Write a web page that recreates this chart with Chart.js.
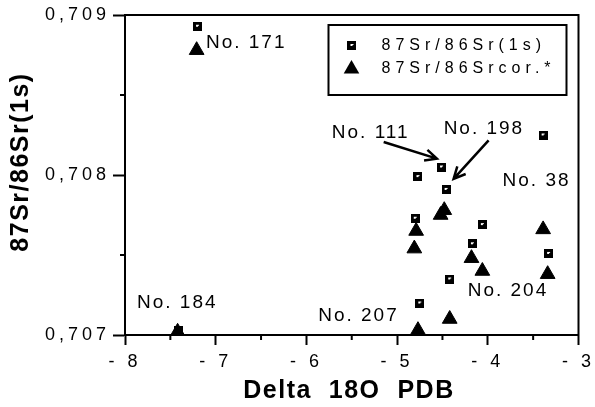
<!DOCTYPE html>
<html>
<head>
<meta charset="utf-8">
<script src="https://cdn.jsdelivr.net/npm/chart.js@4.4.0/dist/chart.umd.min.js"></script>
<style>
  html, body { margin: 0; padding: 0; background: #fff; }
</style>
</head>
<body>
<canvas id="chart" width="595" height="407"></canvas>
<script>
// measured values (delta 18O vs 87Sr/86Sr)
var rawX = [-7.20, -7.41, -4.51, -4.77, -4.46, -4.80, -4.06, -4.17, -3.33, -4.42, -4.75, -3.39];
var rawY = [0.70893, 0.70703, 0.70805, 0.70799, 0.70791, 0.70773, 0.70769, 0.70757, 0.70751, 0.70735, 0.70720, 0.70825];
var corX = [-7.21, -7.42, -4.52, -4.48, -4.79, -4.81, -3.39, -4.18, -4.06, -3.34, -4.42, -4.77];
var corY = [0.70878, 0.70702, 0.70775, 0.70778, 0.70765, 0.70754, 0.70766, 0.70748, 0.70740, 0.70738, 0.70710, 0.70703];

var seriesNames = ['87Sr/86Sr(1s)', '87Sr/86Srcor.*'];
var xTicks = [-8, -7, -6, -5, -4, -3];
var yTicks = [0.707, 0.708, 0.709];
var xMinorTicks = [-7.5, -6.5, -5.5, -4.5, -3.5];
var yMinorTicks = [0.7075, 0.7085];

// sample labels, anchored in data units
var noteText = ['No. 171', 'No. 184', 'No. 207', 'No. 111', 'No. 198', 'No. 38', 'No. 204'];
var noteX = [-7.108, -7.868, -4.982, -5.720, -4.487, -3.837, -4.222];
var noteY = [0.708824, 0.707201, 0.707119, 0.708266, 0.708292, 0.707966, 0.707276];
var noteAlign = ['left', 'left', 'right', 'left', 'left', 'left', 'left'];

// arrows: from -> to, data units
var arrowFrom = [[-5.148, 0.708206], [-3.991, 0.708216]];
var arrowTo = [[-4.561, 0.708102], [-4.377, 0.707976]];

var FONT = '"Liberation Sans", Arial, Helvetica, sans-serif';

function pairs(xs, ys) {
    var out = [];
    for (var i = 0; i < xs.length; i++) out.push({ x: xs[i], y: ys[i] });
    return out;
}

function makeSquare() {
    var c = document.createElement('canvas');
    c.width = 9; c.height = 9;
    var g = c.getContext('2d');
    g.fillStyle = '#000';
    g.fillRect(0, 0, 9, 9);
    g.fillStyle = '#fff';
    g.fillRect(3, 3, 3, 2);
    g.fillStyle = '#000';
    g.fillRect(5, 4, 1, 1);
    return c;
}
var squareImg = makeSquare();

function drawTriangle(ctx, x, y, r) {
    ctx.beginPath();
    ctx.moveTo(x, y - r);
    ctx.lineTo(x + r * 0.866, y + r * 0.5);
    ctx.lineTo(x - r * 0.866, y + r * 0.5);
    ctx.closePath();
    ctx.fill();
}

var decor = {
    id: 'decor',
    beforeDraw: function(chart) {
        chart.ctx.letterSpacing = '4px';
    },
    beforeDatasetsDraw: function(chart) {
        chart.ctx.letterSpacing = '0px';
    },
    afterDraw: function(chart) {
        var ctx = chart.ctx, a = chart.chartArea;
        var xs = chart.scales.x, ys = chart.scales.y;
        ctx.save();
        ctx.strokeStyle = '#000';
        ctx.fillStyle = '#000';
        ctx.lineWidth = 2;
        ctx.strokeRect(a.left, a.top, a.right - a.left, a.bottom - a.top);

        xMinorTicks.forEach(function(v) {
            var px = xs.getPixelForValue(v);
            ctx.beginPath(); ctx.moveTo(px, a.bottom); ctx.lineTo(px, a.bottom + 5); ctx.stroke();
        });
        yMinorTicks.forEach(function(v) {
            var py = ys.getPixelForValue(v);
            ctx.beginPath(); ctx.moveTo(a.left, py); ctx.lineTo(a.left - 5, py); ctx.stroke();
        });

        // arrows
        ctx.lineWidth = 2.5;
        for (var i = 0; i < arrowFrom.length; i++) {
            var x1 = xs.getPixelForValue(arrowFrom[i][0]), y1 = ys.getPixelForValue(arrowFrom[i][1]);
            var x2 = xs.getPixelForValue(arrowTo[i][0]), y2 = ys.getPixelForValue(arrowTo[i][1]);
            var ang = Math.atan2(y2 - y1, x2 - x1);
            ctx.beginPath();
            ctx.moveTo(x1, y1); ctx.lineTo(x2, y2);
            ctx.moveTo(x2 - 13 * Math.cos(ang - 0.45), y2 - 13 * Math.sin(ang - 0.45));
            ctx.lineTo(x2, y2);
            ctx.lineTo(x2 - 13 * Math.cos(ang + 0.45), y2 - 13 * Math.sin(ang + 0.45));
            ctx.stroke();
        }

        // sample labels
        ctx.font = '19px ' + FONT;
        ctx.letterSpacing = '2px';
        ctx.textBaseline = 'middle';
        for (var j = 0; j < noteText.length; j++) {
            ctx.textAlign = noteAlign[j];
            ctx.fillText(noteText[j], xs.getPixelForValue(noteX[j]), ys.getPixelForValue(noteY[j]));
        }

        // legend box
        var bw = 238, bh = 70;
        var bx = a.right - 12 - bw, by = a.top + 10;
        ctx.lineWidth = 2;
        ctx.strokeRect(bx, by, bw, bh);
        ctx.drawImage(squareImg, bx + 19, by + 16);
        drawTriangle(ctx, bx + 23, by + 44, 9);
        ctx.font = '16px ' + FONT;
        ctx.letterSpacing = '5px';
        ctx.textAlign = 'left';
        ctx.fillText(seriesNames[0], bx + 53, by + 21);
        ctx.fillText(seriesNames[1], bx + 53, by + 44);

        // axis titles
        ctx.font = 'bold 25px ' + FONT;
        ctx.letterSpacing = '1.5px';
        ctx.textAlign = 'center';
        ctx.fillText('Delta  18O  PDB', 349, 391);
        ctx.save();
        ctx.translate(21, 162);
        ctx.rotate(-Math.PI / 2);
        ctx.letterSpacing = '1.5px';
        ctx.fillText('87Sr/86Sr(1s)', 0, 0);
        ctx.restore();

        ctx.restore();
    }
};

var ctx = document.getElementById('chart').getContext('2d');
var chart = new Chart(ctx, {
    type: 'scatter',
    data: {
        datasets: [{
            label: seriesNames[1],
            data: pairs(corX, corY),
            pointStyle: 'triangle',
            pointRadius: 8.5,
            backgroundColor: '#000',
            borderColor: '#000',
            borderWidth: 1,
            clip: 0
        }, {
            label: seriesNames[0],
            data: pairs(rawX, rawY),
            pointStyle: squareImg,
            backgroundColor: '#000',
            borderColor: '#000',
            clip: 0
        }]
    },
    options: {
        responsive: false,
        animation: false,
        events: [],
        layout: { padding: { left: 0, right: 15, top: 15, bottom: 0 } },
        plugins: { legend: { display: false }, tooltip: { enabled: false } },
        scales: {
            x: {
                type: 'linear',
                min: xTicks[0],
                max: xTicks[xTicks.length - 1],
                afterBuildTicks: function(scale) {
                    scale.ticks = xTicks.map(function(v) { return { value: v }; });
                },
                afterFit: function(scale) { scale.height = 72; },
                grid: { drawOnChartArea: false, drawTicks: true, tickLength: 10, tickWidth: 2, tickColor: '#000' },
                border: { display: true, color: '#000', width: 2 },
                ticks: {
                    color: '#000',
                    padding: 6,
                    font: { family: FONT, size: 18 },
                    callback: function(v) { return '- ' + Math.abs(v); }
                }
            },
            y: {
                type: 'linear',
                min: yTicks[0],
                max: yTicks[yTicks.length - 1],
                afterBuildTicks: function(scale) {
                    scale.ticks = yTicks.map(function(v) { return { value: v }; });
                },
                afterFit: function(scale) { scale.width = 125; },
                grid: { drawOnChartArea: false, drawTicks: true, tickLength: 12, tickWidth: 2, tickColor: '#000' },
                border: { display: true, color: '#000', width: 2 },
                ticks: {
                    color: '#000',
                    padding: 3,
                    font: { family: FONT, size: 18 },
                    callback: function(v) { return v.toFixed(3).replace('.', ','); }
                }
            }
        }
    },
    plugins: [decor]
});
</script>
</body>
</html>
